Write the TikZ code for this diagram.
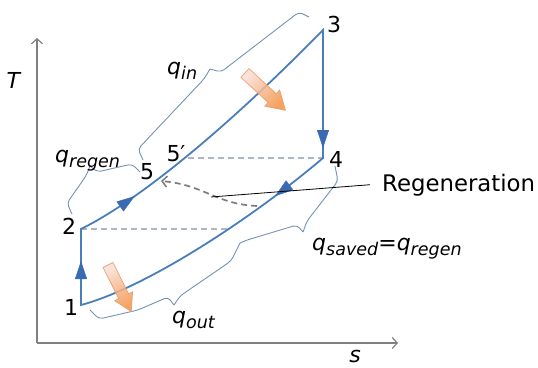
\documentclass[tikz,border=0pt]{standalone}
\usepackage{fontspec}
\setmainfont{DejaVu Sans}
\usetikzlibrary{arrows.meta,decorations.markings,calc}
\definecolor{cycblue}{RGB}{74,126,187}
\definecolor{tipblue}{RGB}{58,106,178}
\definecolor{braceblue}{RGB}{118,146,182}
\definecolor{dashgray}{RGB}{172,182,196}
\definecolor{axisgray}{RGB}{128,128,128}
\definecolor{regengray}{RGB}{125,125,125}
\definecolor{heatlight}{RGB}{250,222,214}
\definecolor{heatdark}{RGB}{243,146,70}
\definecolor{heatedge}{RGB}{230,155,100}
\newcommand\qsub[1]{\textit{q}\raisebox{-5pt}{\fontsize{17.5}{19}\selectfont\textit{#1}}}
\tikzset{
  cyc/.style={draw=cycblue, line width=1.8pt, line join=miter},
  cyctip/.style={decorate, decoration={markings, mark=at position #1 with {\arrow{Triangle[length=18pt,width=12pt,color=tipblue]}}}},
  axisline/.style={draw=axisgray, line width=1.3pt, -{Straight Barb[length=5pt,width=11pt,line width=1.2pt]}},
  levelline/.style={draw=dashgray, line width=1.3pt, dash pattern=on 6pt off 4pt},
  bracepath/.style={draw=braceblue, line width=0.9pt, rounded corners=4pt},
  regenarrow/.style={draw=regengray, line width=1.7pt, dash pattern=on 6pt off 4pt, -{Straight Barb[length=5pt,width=11pt,line width=1.5pt]}},
  pointer/.style={draw=black, line width=0.8pt},
  lab/.style={inner sep=0pt},
  heat/.style={draw=heatedge, line width=0.7pt, top color=heatlight, bottom color=heatdark, fill opacity=0.85, draw opacity=0.9},
}
\begin{document}
\begin{tikzpicture}[x=1pt,y=-1pt,font=\fontsize{22}{24}\selectfont]
\useasboundingbox (0,0) rectangle (538,367);

% axes
\coordinate (o) at (37,343);
\coordinate (ytop) at (37,38);
\coordinate (xend) at (398,343);
\draw[axisline] (o) -- (ytop);
\draw[axisline] (o) -- (xend);
\node[lab] (T) at (14,80) {\textit{T}};
\node[lab, anchor=base] (s) at (355,362) {\textit{s}};

% state points
\coordinate (p1) at (81,305);
\coordinate (p2) at (81,229);
\coordinate (p3) at (323,30);
\coordinate (p4) at (323,158);
\coordinate (p5p) at (188,158);
\coordinate (q2) at (228,229);
\coordinate (p5) at (161,181);

% constant temperature lines
\draw[levelline] (p2) -- (q2);
\draw[levelline] (p5p) -- (p4);

% cycle
\draw[cyc] (p1) -- (p2) .. controls (140,200) and (230,125) .. (p3) -- (p4) .. controls (250,220) and (145,288) .. (p1) -- cycle;
\path[cyctip=44pt] (p1) -- (p2);
\path[cyctip=63pt] (p2) .. controls (140,200) and (230,125) .. (p3);
\path[cyctip=118pt] (p3) -- (p4);
\path[cyctip=61pt] (p4) .. controls (250,220) and (145,288) .. (p1);

% braces
\draw[bracepath] (143,160) -- (138,149) -- (204,79) -- (210,69);
\draw[bracepath] (210,69) -- (221,72) -- (299,12) -- (309,17);
\draw[bracepath] (72,214) -- (67,203) -- (86,176) -- (90,166);
\draw[bracepath] (90,166) -- (97,172) -- (132,164) -- (140,172);
\draw[bracepath] (90,310) -- (99,319) -- (138,310) -- (168,297) -- (174,305);
\draw[bracepath] (174,305) -- (180,296) -- (231,261) -- (240,243);
\draw[bracepath] (240,243) -- (247,240) -- (297,225) -- (303,232);
\draw[bracepath] (303,232) -- (307,221) -- (338,181) -- (335,166);

% heat arrows
\begin{scope}[shift={(245,73)}, rotate=-42.7]
  \path[heat, shading angle=47] (0,6) -- (37,6) -- (37,11) -- (55,0) -- (37,-11) -- (37,-6) -- (0,-6) -- cycle;
\end{scope}
\begin{scope}[shift={(108,265)}, rotate=-63.4]
  \path[heat, shading angle=27] (0,5.5) -- (35,5.5) -- (35,10) -- (52,0) -- (35,-10) -- (35,-5.5) -- (0,-5.5) -- cycle;
\end{scope}

% regeneration
\coordinate (rs) at (257,206);
\draw[regenarrow] (rs) .. controls (215,204) and (205,185) .. (p5);
\coordinate (ps) at (211,197);
\node[lab, anchor=base west, inner xsep=12pt, font=\fontsize{22.8}{25}\selectfont] (regen) at (370,191) {Regeneration};
\draw[pointer] (ps) -- (regen.west);

% point labels
\node[lab] (l1) at (71,307) {1};
\node[lab] (l2) at (69,226) {2};
\node[lab] (l3) at (334,24) {3};
\node[lab] (l4) at (336,159) {4};
\node[lab] (l5) at (147,172) {5};
\node[lab] (l5p) at (176,154) {5\char"2032};

% heat labels
\node[lab, anchor=base west] (qin) at (167,74) {\qsub{in}};
\node[lab, anchor=base west] (qregen) at (55,162) {\qsub{regen}};
\node[lab, anchor=base west] (qout) at (172,323) {\qsub{out}};
\node[lab, anchor=base west] (qsaved) at (312,250) {\qsub{saved}=\qsub{regen}};
\end{tikzpicture}
\end{document}
